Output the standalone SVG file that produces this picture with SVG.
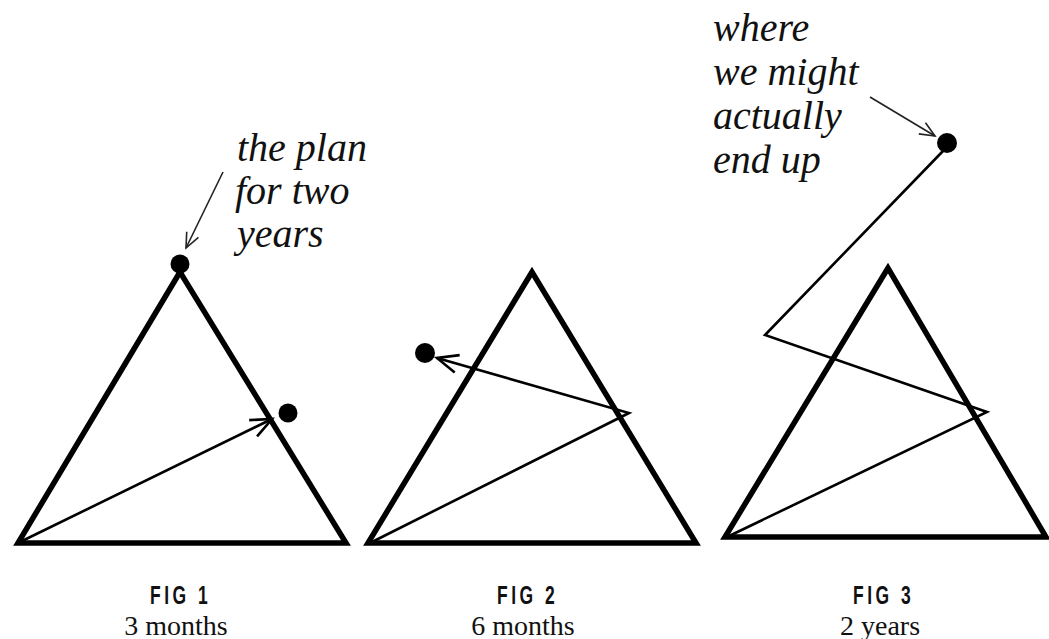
<svg xmlns="http://www.w3.org/2000/svg" width="1049" height="639" viewBox="0 0 1049 639">
<style>
.tri{fill:none;stroke:#000;stroke-width:5.5;stroke-linejoin:miter}
.path{fill:none;stroke:#000;stroke-width:2.6;stroke-linejoin:miter}
.ann{fill:none;stroke:#222;stroke-width:1.6}
.dot{fill:#000}
.note{font-family:"Liberation Serif",serif;font-style:italic;font-size:40px;fill:#111}
.fig{font-family:"Liberation Sans",sans-serif;font-weight:bold;font-size:25px;letter-spacing:5px;fill:#111}
.cap{font-family:"Liberation Serif",serif;font-size:28px;fill:#111}
</style>
<defs>
<marker id="chev" markerUnits="userSpaceOnUse" markerWidth="30" markerHeight="30" viewBox="-25 -15 30 30" refX="0" refY="0" orient="auto">
<path d="M-21,-9 L0,0 L-21,9" fill="none" stroke="#000" stroke-width="2.6"/>
</marker>
<marker id="chevs" markerUnits="userSpaceOnUse" markerWidth="24" markerHeight="24" viewBox="-20 -12 24 24" refX="0" refY="0" orient="auto">
<path d="M-15,-6.5 L0,0 L-15,6.5" fill="none" stroke="#222" stroke-width="1.6"/>
</marker>
</defs>
<rect width="1049" height="639" fill="#fff"/>

<g id="fig1">
<polygon class="tri" points="180,272 18,543 346,543"/>
<circle class="dot" cx="180" cy="264" r="9.5"/>
<circle class="dot" cx="288" cy="413" r="9.5"/>
<text class="note" x="237" y="161">the plan</text>
<text class="note" x="235" y="204">for two</text>
<text class="note" x="237" y="247">years</text>
<text class="fig" transform="translate(150,604) scale(0.7,1)">FIG 1</text>
<text class="cap" x="176" y="635" text-anchor="middle">3 months</text>
</g>

<g id="fig2">
<polygon class="tri" points="532,272 368,543 696,543"/>
<circle class="dot" cx="425" cy="353" r="10"/>
<text class="fig" transform="translate(497,604) scale(0.7,1)">FIG 2</text>
<text class="cap" x="523" y="635" text-anchor="middle">6 months</text>
</g>

<g id="fig3">
<polygon class="tri" points="888,268 725,537 1046,537"/>
<circle class="dot" cx="947" cy="143" r="10"/>
<text class="note" x="713" y="41">where</text>
<text class="note" x="713" y="85">we might</text>
<text class="note" x="713" y="129">actually</text>
<text class="note" x="713" y="173">end up</text>
<text class="fig" transform="translate(853,604) scale(0.7,1)">FIG 3</text>
<text class="cap" x="880" y="635" text-anchor="middle">2 years</text>
</g>

<g id="connectors">
<line class="path" x1="20" y1="542" x2="272" y2="419" marker-end="url(#chev)"/>
<polyline class="path" points="370,543 629,413 437,358" marker-end="url(#chev)"/>
<polyline class="path" points="727,537 987,412 765,335 943,151"/>
<line class="ann" x1="223" y1="172" x2="186" y2="248" marker-end="url(#chevs)"/>
<line class="ann" x1="870" y1="97" x2="935" y2="136" marker-end="url(#chevs)"/>
</g>
</svg>
